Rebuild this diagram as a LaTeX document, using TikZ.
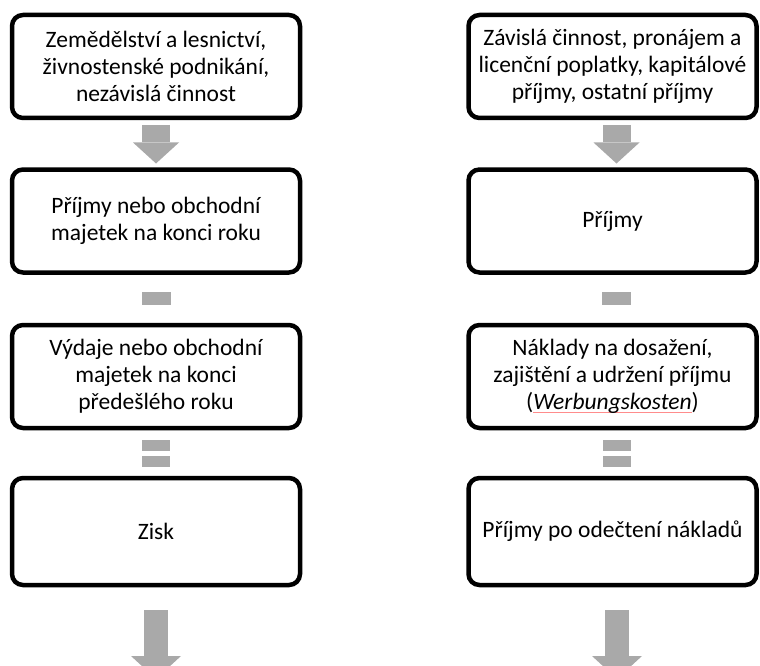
\documentclass[tikz,border=0pt]{standalone}
\usepackage{fontspec}
\setmainfont{Carlito}
\usetikzlibrary{arrows.meta,calc}

\definecolor{blokseda}{HTML}{A9A9A9}
% podtrzeni (kontrola pravopisu)
\newcommand\podtrh[1]{\setbox0\hbox{#1}\rlap{\textcolor{red!45}{\rule[-0.28ex]{\wd0}{0.6pt}}}\box0}

\begin{document}
\begin{tikzpicture}[x=1pt,y=-1pt,
    krok/.style={draw,line width=4.5pt,rounded corners=11pt,outer sep=0pt,
      minimum width=288pt,minimum height=103pt,inner sep=0pt,align=center,
      font=\fontsize{23.5}{27}\selectfont},
    sipka/.style={draw=blokseda,line width=28pt,
      -{Triangle[length=21pt,width=46pt,line width=0pt]}},
    sipkadol/.style={draw=blokseda,line width=24pt,
      -{Triangle[length=23pt,width=50pt,line width=0pt]}},
    minus/.style={fill=blokseda,minimum width=29pt,minimum height=13pt,
      inner sep=0pt,outer sep=0pt},
    rovna/.style={fill=blokseda,minimum width=28pt,minimum height=11pt,
      inner sep=0pt,outer sep=0pt}]

    \clip (0,0) rectangle (760,666);

    % ---- Levy sloupec ----
    \node[krok] (l1) at (156,66.5) {Zemědělství a lesnictví,\\živnostenské podnikání,\\nezávislá činnost};
    \node[krok] (l2) at (156,221) {Příjmy nebo obchodní\\majetek na konci roku};
    \node[krok] (l3) at (156,376.5) {Výdaje nebo obchodní\\majetek na konci\\předešlého roku};
    \node[krok,minimum height=107pt] (l4) at (156,531.5) {Zisk};

    % ---- Pravy sloupec ----
    \node[krok] (r1) at (612.5,66.5) {Závislá činnost, pronájem a\\licenční poplatky, kapitálové\\příjmy, ostatní příjmy};
    \node[krok] (r2) at (612.5,221) {Příjmy};
    \node[krok] (r3) at (612.5,376.5) {Náklady na dosažení,\\zajištění a udržení příjmu\\(\podtrh{\textit{Werbungskosten}})};
    \node[krok,minimum height=107pt] (r4) at (612.5,531.5) {Příjmy po odečtení nákladů};

    % Sipky
    \draw[sipka] ([yshift=-7pt]l1.south) -- ([yshift=6pt]l2.north);
    \draw[sipka] ([xshift=4pt,yshift=-7pt]r1.south) -- ([xshift=4pt,yshift=6pt]r2.north);

    % Minus
    \node[minus] (lm) at ($(l2.south)!0.5!(l3.north)$) {};
    \node[minus] (rm) at ($([xshift=4pt]r2.south)!0.5!([xshift=4pt]r3.north)$) {};

    % Rovna se
    \coordinate (lst) at ($(l3.south)!0.5!(l4.north)$);
    \coordinate (rst) at ($(r3.south)!0.5!(r4.north)$);
    \node[rovna] (lr1) at ([yshift=8pt]lst) {};
    \node[rovna] (lr2) at ([yshift=-8pt]lst) {};
    \node[rovna] (rr1) at ([xshift=4pt,yshift=8pt]rst) {};
    \node[rovna] (rr2) at ([xshift=4pt,yshift=-8pt]rst) {};

    % Sipky dolu
    \coordinate (lkonec) at (156,679);
    \coordinate (rkonec) at (617,679);
    \draw[sipkadol] ([yshift=-25pt]l4.south) -- (lkonec);
    \draw[sipkadol] ([xshift=4.5pt,yshift=-25pt]r4.south) -- (rkonec);

  \end{tikzpicture}
\end{document}
